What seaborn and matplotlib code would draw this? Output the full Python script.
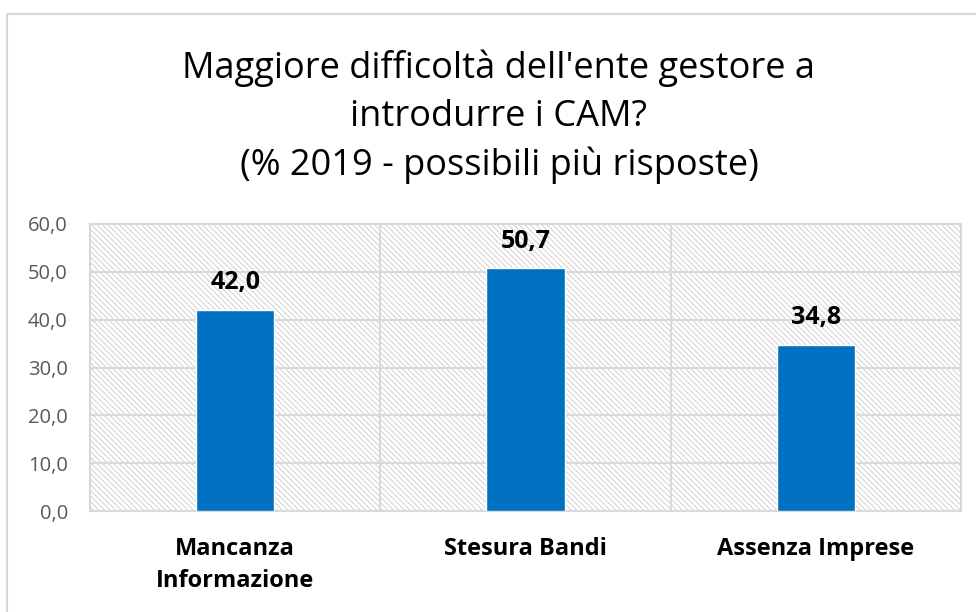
import matplotlib
matplotlib.use("Agg")
import matplotlib.pyplot as plt
import seaborn as sns
import pandas as pd
from matplotlib.patches import Rectangle

categories = ["Mancanza\nInformazione", "Stesura Bandi", "Assenza Imprese"]
values = [42.0, 50.7, 34.8]
yticks = [0, 10, 20, 30, 40, 50, 60]
title = "Maggiore difficoltà dell'ente gestore a\nintrodurre i CAM?\n(% 2019 - possibili più risposte)"

sns.set_theme(style="white")
plt.rcParams['font.family'] = ['Open Sans', 'DejaVu Sans']
plt.rcParams['hatch.linewidth'] = 0.7

GRID = "#d9d9d9"
HATCH = "#d0d0d0"
BAR = "#0070C0"

df = pd.DataFrame({"cat": categories, "val": values})

fig = plt.figure(figsize=(9.76, 6.12), dpi=100)
ax = fig.add_axes([90/976, 101/612, 871/976, 287/612])

# hatched background
bg = Rectangle((0, 0), 1, 1, transform=ax.transAxes, facecolor="white",
               edgecolor=HATCH, hatch="\\\\\\\\\\\\", lw=0, zorder=0)
ax.add_patch(bg)

sns.barplot(data=df, x="cat", y="val", color=BAR, width=0.27, saturation=1,
            ax=ax, zorder=3)

ax.set_xlim(-0.5, 2.5)
ax.set_ylim(0, 60)
ax.set_yticks(yticks)
ax.set_yticklabels([f"{t:.1f}".replace(".", ",") for t in yticks],
                   fontsize=14.5, color="#595959")
ax.tick_params(axis="y", pad=16, length=0)
ax.tick_params(axis="x", pad=19, length=0)
for lab in ax.get_xticklabels():
    lab.set_fontweight("bold")
    lab.set_fontsize(17)
    lab.set_color("black")
    lab.set_linespacing(1.45)
ax.set_xlabel("")
ax.set_ylabel("")

for y in yticks[1:-1]:
    ax.axhline(y, color=GRID, lw=1.5, zorder=1)
for x in [0.5, 1.5]:
    ax.axvline(x, color=GRID, lw=1.5, zorder=1)

for s in ax.spines.values():
    s.set_visible(True)
    s.set_color(GRID)
    s.set_linewidth(1.5)

for i, v in enumerate(values):
    ax.annotate(f"{v:.1f}".replace(".", ","), (i, v), xytext=(0, 15),
                textcoords="offset points", ha="center", va="baseline",
                fontsize=18, fontweight="bold", color="black")

fig.text(499/976, 1 - 117/612, title, ha="center", va="center",
         fontsize=26, color="black", linespacing=1.42)

# outer chart border
fig.patches.append(Rectangle((7/976, -0.1), 1.2, (612 - 14)/612 + 0.1,
                             transform=fig.transFigure, facecolor="none",
                             edgecolor=GRID, lw=1.5))

fig.savefig("out.png", dpi=100)
